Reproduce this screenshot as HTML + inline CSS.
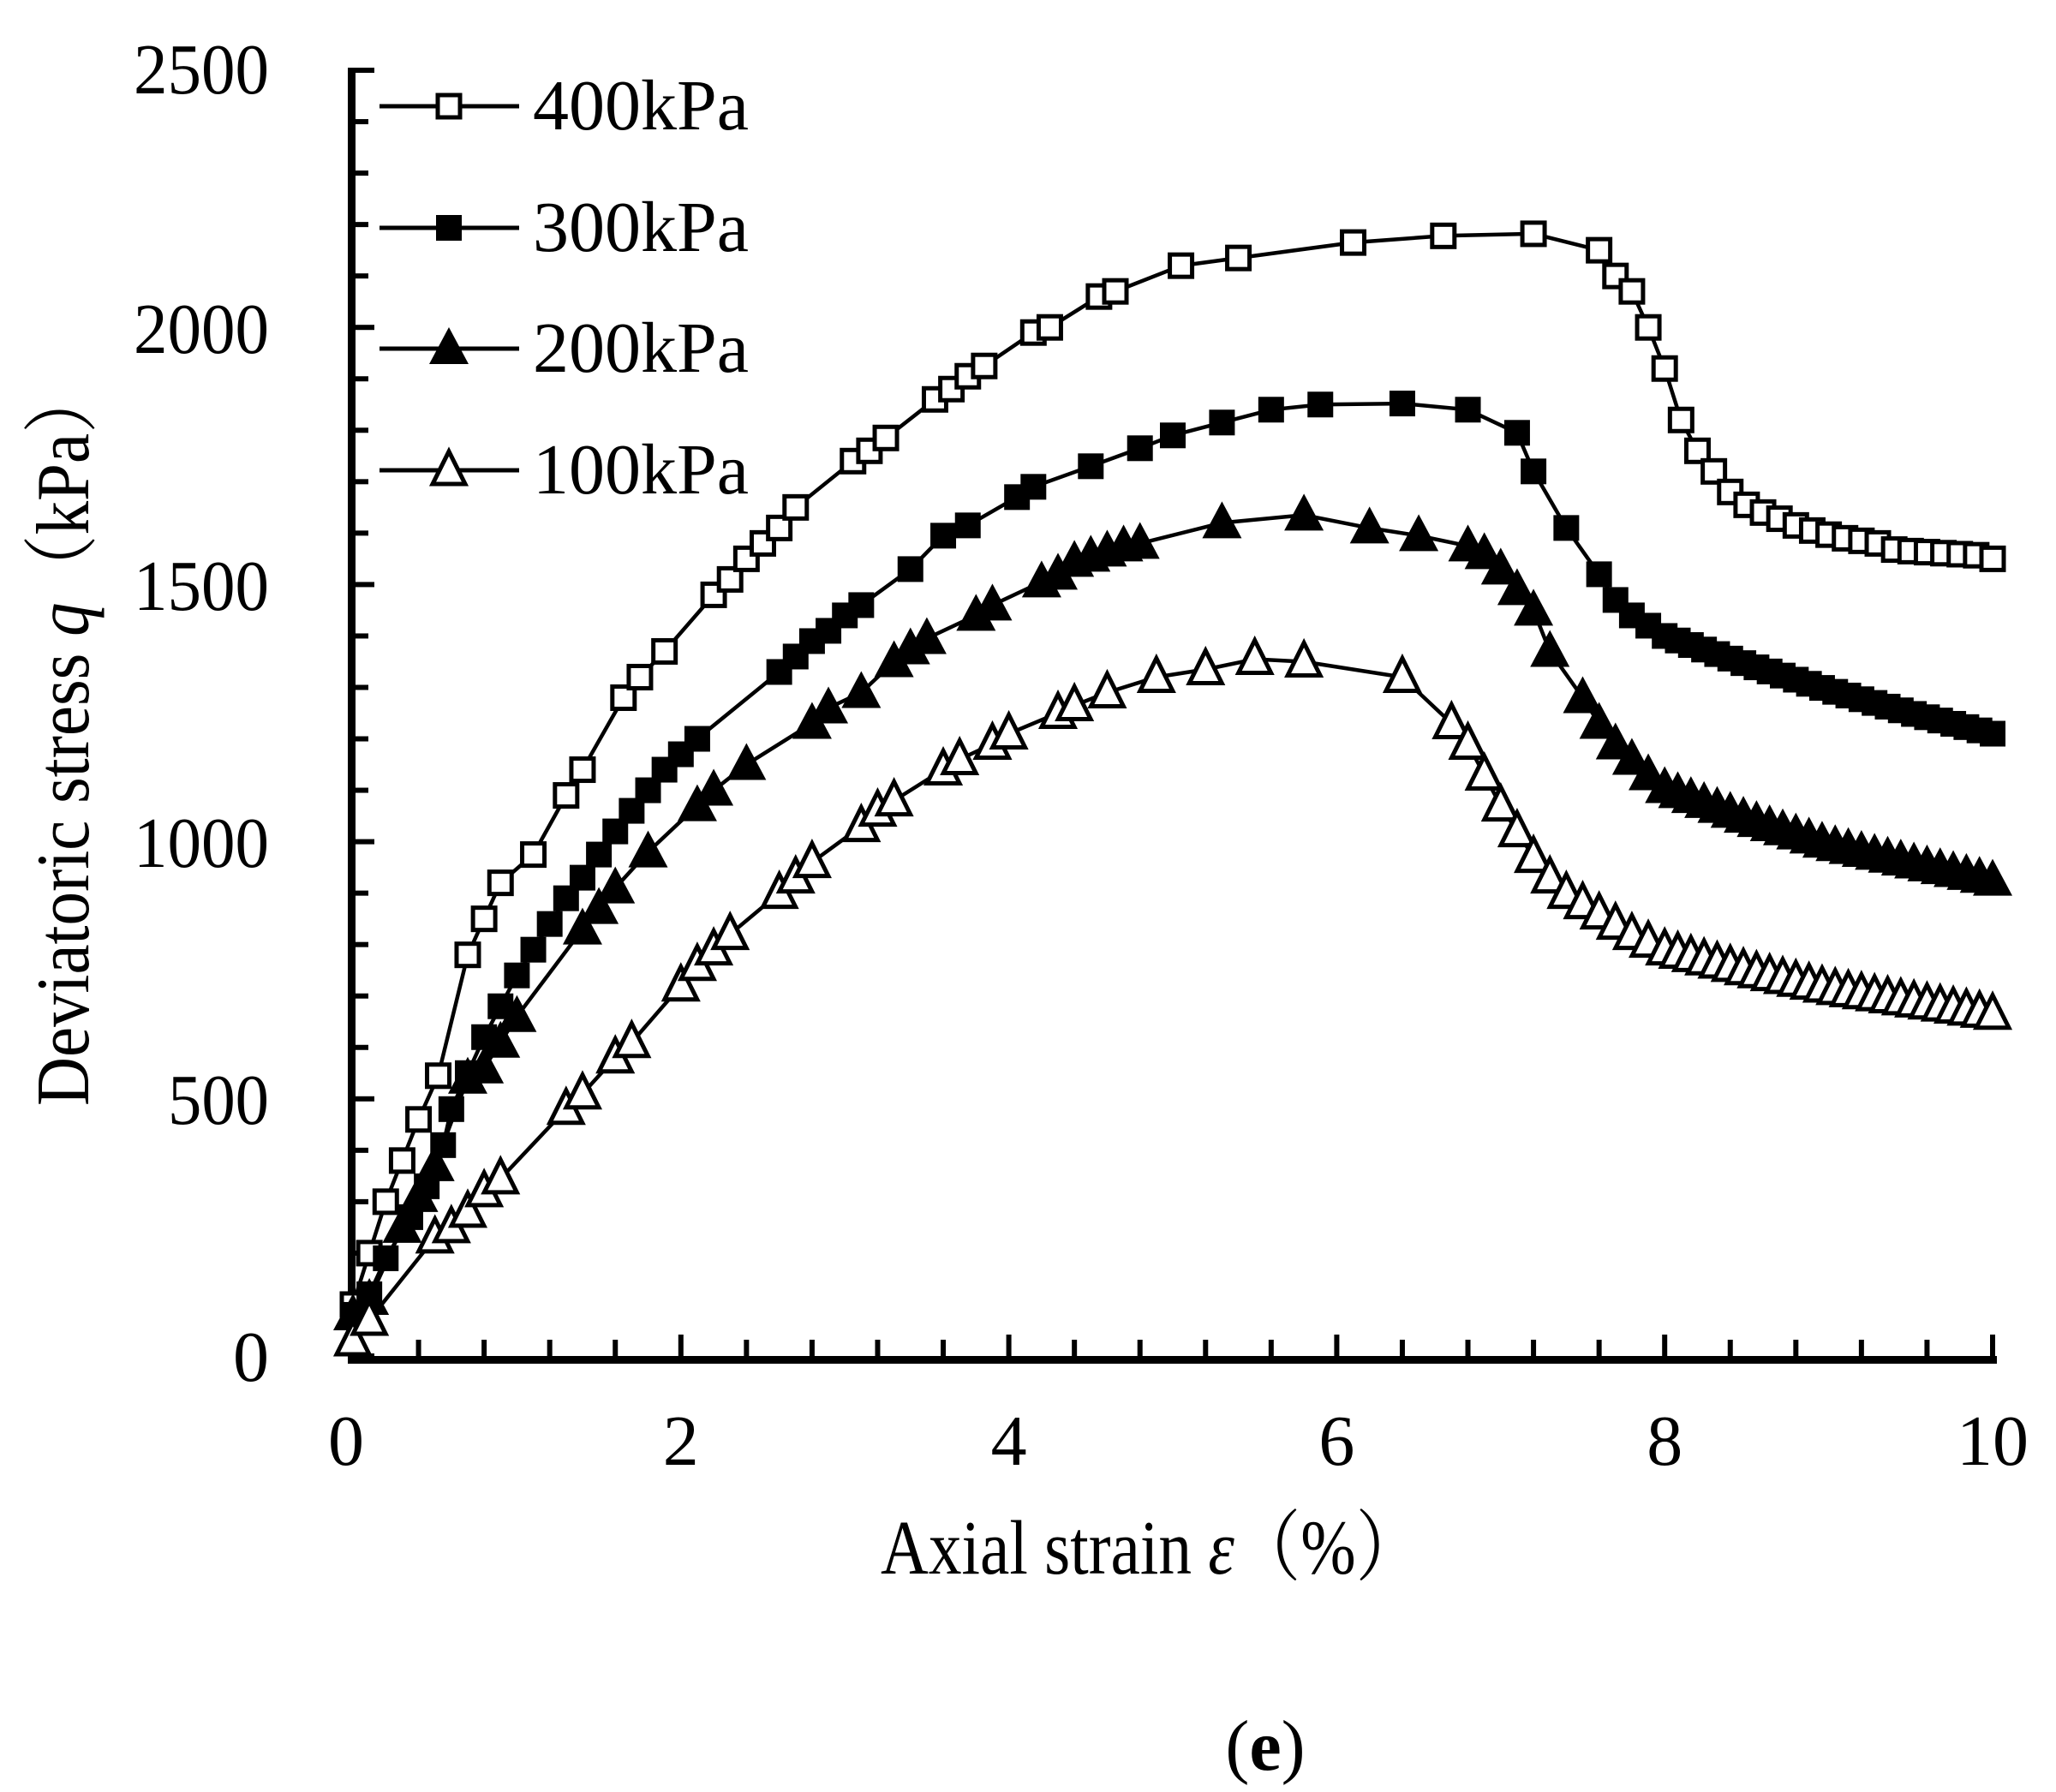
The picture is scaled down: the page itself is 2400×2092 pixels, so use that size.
<!DOCTYPE html>
<html><head><meta charset="utf-8"><style>
html,body{margin:0;padding:0;background:#fff;}
svg{display:block;}
text{font-family:"Liberation Serif","Noto Serif CJK SC",serif;fill:#000;}
</style></head><body>
<svg id="s" width="2400" height="2092" xmlns="http://www.w3.org/2000/svg">
<rect width="2400" height="2092" fill="#fff"/>
<g id="axes"></g>
<g id="data"></g>
<g font-size="84">
<text x="314" y="109" text-anchor="end" textLength="158" lengthAdjust="spacingAndGlyphs">2500</text>
<text x="314" y="412" text-anchor="end" textLength="158" lengthAdjust="spacingAndGlyphs">2000</text>
<text x="314" y="712" text-anchor="end" textLength="158" lengthAdjust="spacingAndGlyphs">1500</text>
<text x="314" y="1012" text-anchor="end" textLength="158" lengthAdjust="spacingAndGlyphs">1000</text>
<text x="314" y="1312" text-anchor="end" textLength="118" lengthAdjust="spacingAndGlyphs">500</text>
<text x="314" y="1612" text-anchor="end">0</text>
</g>
<g font-size="84" text-anchor="middle" id="xl"></g>
<text x="1028" y="1837" font-size="90" textLength="632" lengthAdjust="spacingAndGlyphs">Axial strain <tspan font-style="italic">ε</tspan>（%）</text>
<text transform="translate(103,859) rotate(-90)" font-size="88" text-anchor="middle" textLength="864" lengthAdjust="spacingAndGlyphs">Deviatoric stress <tspan font-style="italic">q</tspan>（kPa）</text>
<text x="1477" y="2066" font-size="84" text-anchor="middle">(<tspan font-weight="bold">e</tspan>)</text>
<g font-size="84">
<text x="622" y="151">400kPa</text>
<text x="622" y="293">300kPa</text>
<text x="622" y="434">200kPa</text>
<text x="622" y="576">100kPa</text>
</g>
</svg>
<script>
var NS="http://www.w3.org/2000/svg";
function el(p,t,a){var e=document.createElementNS(NS,t);for(var k in a)e.setAttribute(k,a[k]);p.appendChild(e);return e;}
var X0=412,U=191.4,Y0=1583,K=0.6004;
function X(e){return X0+U*e;} function Y(q){return Y0-K*q;}
var ax=document.getElementById('axes');
el(ax,'rect',{x:406,y:79,width:9,height:1513,fill:'#000'});
el(ax,'rect',{x:406,y:1583,width:1925,height:9,fill:'#000'});
for(var q=0;q<=2500;q+=100){var maj=q%500==0;el(ax,'rect',{x:410,y:Y(q)-3,width:maj?27:20,height:6,fill:'#000'});}
for(var i=1;i<=25;i++){var e=i*0.4;var maj=(i%5==0);el(ax,'rect',{x:X(e)-3,y:maj?1558:1564,width:6,height:maj?25:19,fill:'#000'});}
var xl=document.getElementById('xl');
for(var i=0;i<=10;i+=2){var t=el(xl,'text',{x:(i==0?X(0)-8:X(i)),y:1710});t.textContent=i;}
function tail(a,pts){var r=[];for(var e=8.08;e<=10.001;e+=0.08){var v;for(var j=0;j<pts.length-1;j++){if(e>=pts[j][0]&&e<=pts[j+1][0]+1e-9){var f=(e-pts[j][0])/(pts[j+1][0]-pts[j][0]);v=pts[j][1]+f*(pts[j+1][1]-pts[j][1]);}}r.push([e,v]);}return a.concat(r);}
var s400=[[0,100],[0.1,200],[0.2,300],[0.3,380],[0.4,460],[0.52,545],[0.7,780],[0.8,850],[0.9,920],[1.1,975],[1.3,1090],[1.4,1140],[1.65,1280],[1.75,1320],[1.9,1370],[2.2,1480],[2.3,1510],[2.4,1550],[2.5,1580],[2.6,1610],[2.7,1650],[3.05,1740],[3.15,1760],[3.25,1785],[3.55,1860],[3.65,1880],[3.75,1905],[3.85,1925],[4.15,1990],[4.25,2000],[4.55,2060],[4.65,2070],[5.05,2120],[5.4,2135],[6.1,2165],[6.65,2178],[7.2,2182],[7.6,2150],[7.7,2100],[7.8,2070],[7.9,2000],[8.0,1920],[8.1,1820],[8.2,1760],[8.3,1720],[8.4,1680],[8.5,1655],[8.6,1640],[8.7,1628],[8.8,1615],[8.9,1605],[9.0,1597],[9.1,1590],[9.2,1585],[9.3,1580],[9.4,1568],[9.5,1565],[9.6,1563],[9.7,1561],[9.8,1559],[9.9,1557],[10,1550]];
var s300=tail([[0,80],[0.1,120],[0.2,190],[0.35,270],[0.45,330],[0.55,410],[0.6,480],[0.7,550],[0.8,620],[0.9,680],[1.0,740],[1.1,790],[1.2,840],[1.3,890],[1.4,930],[1.5,975],[1.6,1020],[1.7,1060],[1.8,1100],[1.9,1140],[2.0,1170],[2.1,1200],[2.6,1330],[2.7,1360],[2.8,1390],[2.9,1410],[3.0,1440],[3.1,1460],[3.4,1530],[3.6,1595],[3.75,1615],[4.05,1670],[4.15,1690],[4.5,1730],[4.8,1765],[5.0,1790],[5.3,1815],[5.6,1840],[5.9,1850],[6.4,1852],[6.8,1840],[7.1,1795],[7.2,1720],[7.4,1610],[7.6,1520],[7.7,1470],[7.8,1440],[7.9,1420],[8.0,1400]],[[8,1400],[8.5,1345],[9,1295],[9.5,1250],[10,1210]]);
var s200=tail([[0,80],[0.1,110],[0.3,250],[0.4,310],[0.5,370],[0.7,540],[0.8,560],[0.9,610],[1.0,660],[1.4,830],[1.5,870],[1.6,910],[1.8,980],[2.1,1070],[2.2,1100],[2.4,1150],[2.8,1230],[2.9,1260],[3.1,1290],[3.3,1350],[3.4,1375],[3.5,1395],[3.8,1440],[3.9,1460],[4.2,1505],[4.3,1520],[4.4,1545],[4.5,1555],[4.6,1565],[4.7,1575],[4.8,1580],[5.3,1620],[5.8,1635],[6.2,1610],[6.5,1595],[6.8,1575],[6.9,1560],[7.0,1530],[7.1,1490],[7.2,1450],[7.3,1370],[7.5,1280],[7.6,1230],[7.7,1190],[7.8,1160],[7.9,1130],[8.0,1105]],[[8,1105],[8.5,1045],[9,995],[9.5,960],[10,925]]);
var s100=tail([[0,30],[0.1,70],[0.5,230],[0.6,250],[0.7,280],[0.8,320],[0.9,345],[1.3,480],[1.4,510],[1.6,580],[1.7,610],[2.0,720],[2.1,760],[2.2,790],[2.3,820],[2.6,900],[2.7,930],[2.8,960],[3.1,1030],[3.2,1060],[3.3,1080],[3.6,1140],[3.7,1160],[3.9,1190],[4.0,1210],[4.3,1250],[4.4,1265],[4.6,1290],[4.9,1320],[5.2,1335],[5.5,1355],[5.8,1350],[6.4,1320],[6.7,1230],[6.8,1190],[6.9,1130],[7.0,1070],[7.1,1020],[7.2,970],[7.3,930],[7.4,900],[7.5,880],[7.6,860],[7.7,840],[7.8,820],[7.9,805],[8.0,790]],[[8,790],[8.5,750],[9,715],[9.5,690],[10,665]]);
var d=document.getElementById('data');
function line(s){var p=s.map(function(a){return X(a[0]).toFixed(1)+','+Y(a[1]).toFixed(1);}).join(' ');el(d,'polyline',{points:p,fill:'none',stroke:'#000','stroke-width':4.5});}
function mk(t,x,y){
 if(t=='os')el(d,'rect',{x:x-13,y:y-13,width:26,height:26,fill:'#fff',stroke:'#000','stroke-width':5});
 else if(t=='fs')el(d,'rect',{x:x-15,y:y-15,width:30,height:30,fill:'#000'});
 else if(t=='ft')el(d,'polygon',{points:(x)+','+(y-25)+' '+(x+23)+','+(y+18)+' '+(x-23)+','+(y+18),fill:'#000'});
 else el(d,'polygon',{points:(x)+','+(y-22)+' '+(x+19)+','+(y+16)+' '+(x-19)+','+(y+16),fill:'#fff',stroke:'#000','stroke-width':5,'stroke-linejoin':'miter'});
}
var S=[[s400,'os'],[s300,'fs'],[s200,'ft'],[s100,'ot']];
S.forEach(function(a){line(a[0]);a[0].forEach(function(p){mk(a[1],X(p[0]),Y(p[1]));});});
var ly=[124,266,407,549];
S.forEach(function(a,i){el(d,'line',{x1:443,x2:606,y1:ly[i],y2:ly[i],stroke:'#000','stroke-width':5});mk(a[1],524,ly[i]);});
</script>
</body></html>
